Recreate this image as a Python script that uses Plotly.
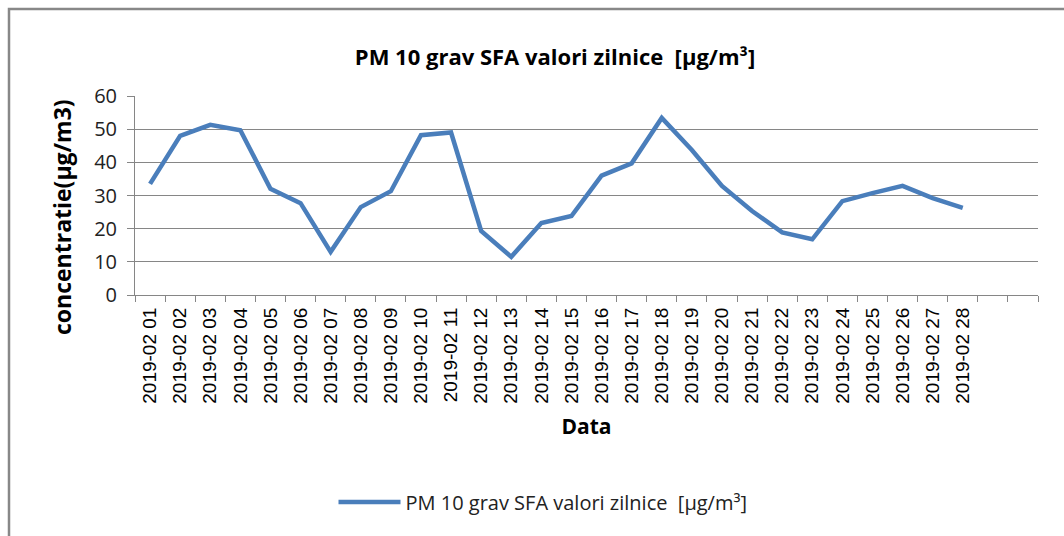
import plotly.graph_objects as go

dates = [f"2019-02 {d:02d}" for d in range(1, 29)]
values = [33.5, 48.0, 51.3, 49.7, 32.0, 27.7, 13.0, 26.5, 31.3, 48.2,
          49.0, 19.3, 11.5, 21.7, 23.8, 36.0, 39.7, 53.4, 43.7, 32.9,
          25.3, 18.9, 16.8, 28.3, 30.7, 32.9, 29.2, 26.3]
n_categories = 30  # two trailing empty categories on the axis
series_name = "PM 10 grav SFA valori zilnice  [µg/m³]"
title_text = "PM 10 grav SFA valori zilnice  [µg/m³]"
y_title = "concentratie(µg/m3)"
x_title = "Data"
y_ticks = [0, 10, 20, 30, 40, 50, 60]

W, H = 1064, 536
L, R, T, B = 135, 26, 96, 241
pw = W - L - R
ph = H - T - B

xs = list(range(len(dates)))

fig = go.Figure()
fig.add_trace(go.Scatter(
    x=xs, y=values, mode="lines", name=series_name,
    line=dict(color="#4A7EBB", width=4.5),
))

font_main = "'Open Sans', Lato, sans-serif"

fig.update_layout(
    width=W, height=H,
    margin=dict(l=L, r=R, t=T, b=B),
    paper_bgcolor="white", plot_bgcolor="white",
    font=dict(family=font_main, color="#000000"),
    title=dict(text="<b>" + title_text + "</b>", x=555 / W, xanchor="center",
               y=1 - 57 / H, yanchor="middle", font=dict(size=22, family=font_main)),
    showlegend=True,
    legend=dict(orientation="h", x=(543 - L) / pw, xanchor="center",
                y=-(502 - (T + ph)) / ph, yanchor="middle",
                font=dict(size=20, family=font_main, color="#222"),
                itemwidth=62),
    xaxis=dict(
        range=[-0.5, n_categories - 0.5],
        tickmode="array", tickvals=xs, ticktext=dates,
        tickangle=-90, ticks="", showgrid=False,
        tickfont=dict(family="'Liberation Sans', Arial, sans-serif", size=19, color="#000"),
        showline=True, linecolor="#868686", linewidth=1,
        minor=dict(tick0=-0.5, dtick=1, ticks="outside", ticklen=6,
                   tickcolor="#868686", showgrid=False),
        zeroline=False, ticklabelstandoff=4,
        title=dict(text="<b>" + x_title + "</b>", font=dict(size=21, family=font_main), standoff=16),
    ),
    yaxis=dict(
        range=[0, 60], tickmode="array", tickvals=y_ticks,
        tickfont=dict(size=20, family=font_main, color="#222"),
        showgrid=True, gridcolor="#868686", gridwidth=1,
        showline=True, linecolor="#868686", linewidth=1,
        ticks="outside", ticklen=7, tickcolor="#868686",
        zeroline=False, ticklabelstandoff=6,
    ),
    annotations=[dict(
        text="<b>" + y_title + "</b>", textangle=-90,
        xref="paper", yref="paper",
        x=(62 - L) / pw, y=1 - (217 - T) / ph,
        xanchor="center", yanchor="middle", showarrow=False,
        font=dict(size=23, family=font_main, color="#000"),
    )],
    shapes=[dict(
        type="rect", xref="paper", yref="paper",
        x0=(9 - L) / pw, x1=(1080 - L) / pw,
        y0=1 - (560 - T) / ph, y1=1 - (9 - T) / ph,
        line=dict(color="#888888", width=2.5), fillcolor="rgba(0,0,0,0)",
        layer="below",
    )],
)

fig.write_html("out.html", config={"displayModeBar": False},
               post_script="document.body.style.margin='0px';document.body.style.overflow='hidden';")
